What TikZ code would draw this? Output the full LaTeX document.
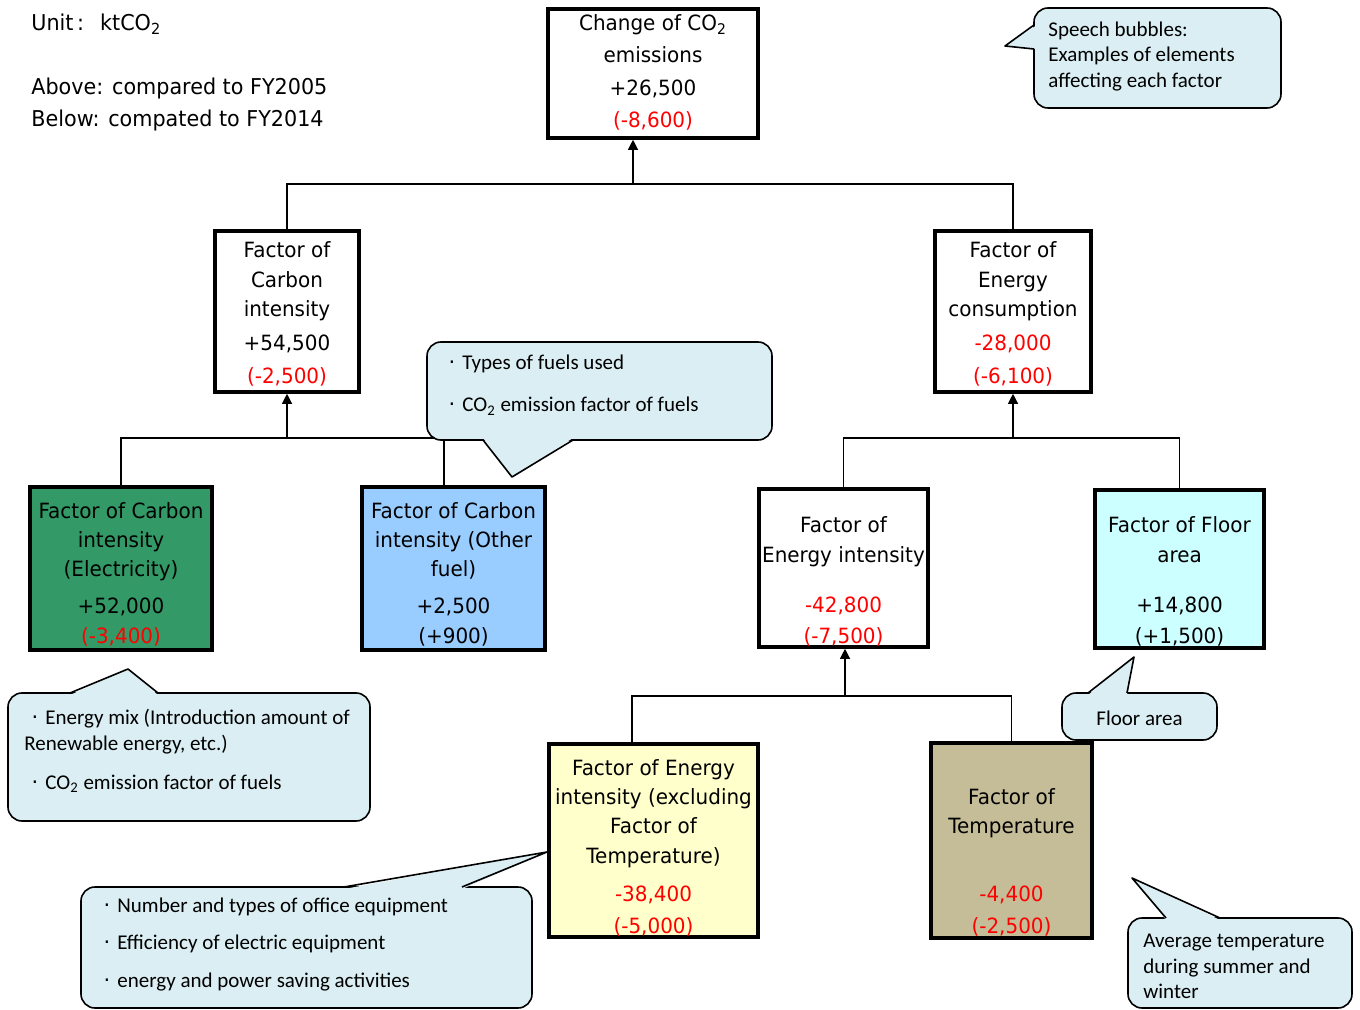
\documentclass[tikz,border=0pt]{standalone}
\usepackage{fontspec}
\newfontfamily\boxfont[FakeStretch=0.95]{DejaVu Sans}
\newfontfamily\bubfont{Carlito}
\newfontfamily\dotfont{DejaVu Sans}
\usetikzlibrary{arrows.meta}
\definecolor{cgreen}{RGB}{51,153,102}
\definecolor{cblue}{RGB}{153,204,255}
\definecolor{ccyan}{RGB}{204,255,255}
\definecolor{cyellow}{RGB}{255,255,204}
\definecolor{ctan}{RGB}{196,189,151}
\definecolor{bubfill}{RGB}{218,238,243}
\definecolor{cred}{RGB}{255,0,0}
\newcommand{\jdot}{\makebox[1em][c]{{\dotfont ·}}}
\begin{document}
\begin{tikzpicture}[x=0.5pt,y=-0.5pt,
  factorbox/.style={draw=black, line width=1.8pt, inner sep=0pt},
  conn/.style={line width=0.6pt},
  arr/.style={conn, -{Triangle[length=5pt,width=5pt]}},
  bt/.style={font=\boxfont\fontsize{10.5pt}{12pt}\selectfont, anchor=base, inner sep=0pt},
  rt/.style={bt, text=cred},
  lt/.style={font=\boxfont\fontsize{10.9pt}{12pt}\selectfont, anchor=base west, inner sep=0pt},
  bubt/.style={font=\bubfont\fontsize{10.5pt}{12pt}\selectfont, anchor=base west, inner sep=0pt},
  bubc/.style={font=\bubfont\fontsize{10.5pt}{12pt}\selectfont, anchor=base, inner sep=0pt},
  bubble/.style={draw=black, line width=0.8pt, fill=bubfill, rounded corners=7pt},
  ptrfill/.style={fill=bubfill},
  ptrline/.style={draw=black, line width=0.8pt, line join=round}]
\useasboundingbox (0,0) rectangle (1360,1010);

% ---------- factor boxes ----------
\node[factorbox, fill=white, minimum width=105pt, minimum height=64.5pt] (top) at (653,73.5) {};
\node[factorbox, fill=white, minimum width=72pt, minimum height=80.5pt] (ci) at (287,311.5) {};
\node[factorbox, fill=white, minimum width=78pt, minimum height=80.5pt] (ec) at (1013,311.5) {};
\node[factorbox, fill=cgreen, minimum width=91pt, minimum height=81.5pt] (el) at (121,568.5) {};
\node[factorbox, fill=cblue, minimum width=91.5pt, minimum height=81.5pt] (of) at (453.5,568.5) {};
\node[factorbox, fill=white, minimum width=84.5pt, minimum height=79pt] (ei) at (843.5,568) {};
\node[factorbox, fill=ccyan, minimum width=84.5pt, minimum height=79pt] (fa) at (1179.5,569) {};
\node[factorbox, fill=cyellow, minimum width=104.5pt, minimum height=96.5pt] (ex) at (653.5,840.5) {};
\node[factorbox, fill=ctan, minimum width=80.5pt, minimum height=97.5pt] (te) at (1011.5,840.5) {};

% ---------- connectors ----------
\coordinate (j1) at (633,184);
\draw[conn] (ci.north) |- (j1) -| (ec.north);
\draw[arr] (j1) -- (j1 |- top.south);

\coordinate (j2) at (287,438);
\coordinate (k2) at (444,438);
\draw[conn] (el.north) |- (k2) -- (k2 |- of.north);
\draw[arr] (j2) -- (ci.south);

\coordinate (j3) at (1013,438);
\draw[conn] (ei.north) |- (j3) -| (fa.north);
\draw[arr] (j3) -- (ec.south);

\coordinate (j4) at (845,696);
\coordinate (k4) at (632,696);
\draw[conn] (ex.north -| k4) -- (k4) -| (te.north);
\draw[arr] (j4) -- (j4 |- ei.south);

% ---------- box texts ----------
\node[bt] (top1) at (653,31) {Change of CO\textsubscript{2}};
\node[bt] (top2) at (653,63) {emissions};
\node[bt] (top3) at (653,96) {+26,500};
\node[rt] (top4) at (653,128) {(-8,600)};

\node[bt] (ci1) at (287,258) {Factor of};
\node[bt] (ci2) at (287,288) {Carbon};
\node[bt] (ci3) at (287,317) {intensity};
\node[bt] (ci4) at (287,351) {+54,500};
\node[rt] (ci5) at (287,384) {(-2,500)};

\node[bt] (ec1) at (1013,258) {Factor of};
\node[bt] (ec2) at (1013,288) {Energy};
\node[bt] (ec3) at (1013,317) {consumption};
\node[rt] (ec4) at (1013,351) {-28,000};
\node[rt] (ec5) at (1013,384) {(-6,100)};

\node[bt] (el1) at (121,518) {Factor of Carbon};
\node[bt] (el2) at (121,547) {intensity};
\node[bt] (el3) at (121,576) {(Electricity)};
\node[bt] (el4) at (121,613) {+52,000};
\node[rt] (el5) at (121,643) {(-3,400)};

\node[bt] (of1) at (453.5,518) {Factor of Carbon};
\node[bt] (of2) at (453.5,547) {intensity (Other};
\node[bt] (of3) at (453.5,576) {fuel)};
\node[bt] (of4) at (453.5,613) {+2,500};
\node[bt] (of5) at (453.5,643) {(+900)};

\node[bt] (ei1) at (843.5,532) {Factor of};
\node[bt] (ei2) at (843.5,562) {Energy intensity};
\node[rt] (ei3) at (843.5,612) {-42,800};
\node[rt] (ei4) at (843.5,643) {(-7,500)};

\node[bt] (fa1) at (1179.5,532) {Factor of Floor};
\node[bt] (fa2) at (1179.5,562) {area};
\node[bt] (fa3) at (1179.5,612) {+14,800};
\node[bt] (fa4) at (1179.5,643) {(+1,500)};

\node[bt] (ex1) at (653.5,775) {Factor of Energy};
\node[bt] (ex2) at (653.5,804) {intensity (excluding};
\node[bt] (ex3) at (653.5,833) {Factor of};
\node[bt] (ex4) at (653.5,863) {Temperature)};
\node[rt] (ex5) at (653.5,901) {-38,400};
\node[rt] (ex6) at (653.5,933) {(-5,000)};

\node[bt] (te1) at (1011.5,804) {Factor of};
\node[bt] (te2) at (1011.5,833) {Temperature};
\node[rt] (te3) at (1011.5,901) {-4,400};
\node[rt] (te4) at (1011.5,933) {(-2,500)};

% ---------- header texts ----------
\node[lt] (unit) at (31,31) {Unit\,:\hspace{8pt}ktCO\textsubscript{2}};
\node[lt] (above) at (31,95) {Above: compared to FY2005};
\node[lt] (below) at (31,127) {Below: compated to FY2014};

% ---------- speech bubbles ----------
% top right
\draw[bubble] (1034,8) rectangle (1281,108);
\fill[ptrfill] (1037,25) -- (1005,46) -- (1037,49) -- cycle;
\draw[ptrline] (1034,25) -- (1005,46) -- (1034,49);
\node[bubt] (sb1) at (1048,37) {Speech bubbles:};
\node[bubt] (sb2) at (1048,62) {Examples of elements};
\node[bubt] (sb3) at (1048,88) {affecting each factor};

% fuels
\draw[bubble] (427,342) rectangle (772,440);
\fill[ptrfill] (483,438) -- (512,477) -- (573,438) -- cycle;
\draw[ptrline] (483,440) -- (512,477) -- (573,440);
\node[bubt] (fb1) at (441,370) {\jdot Types of fuels used};
\node[bubt] (fb2) at (441,412) {\jdot CO\textsubscript{2} emission factor of fuels};

% electricity
\draw[bubble] (8,693) rectangle (370,821);
\fill[ptrfill] (70,695) -- (128,669) -- (158,695) -- cycle;
\draw[ptrline] (70,693) -- (128,669) -- (158,693);
\node[bubt] (eb1) at (24,724) {\jdot Energy mix (Introduction amount of};
\node[bubt] (eb2) at (24,750) {Renewable energy, etc.)};
\node[bubt] (eb3) at (24,789) {\jdot CO\textsubscript{2} emission factor of fuels};

% office equipment
\draw[bubble] (81,887) rectangle (532,1008);
\fill[ptrfill] (344,889) -- (547,852) -- (462,889) -- cycle;
\draw[ptrline] (344,887) -- (547,852) -- (462,887);
\node[bubt] (ob1) at (96,912) {\jdot Number and types of office equipment};
\node[bubt] (ob2) at (96,949) {\jdot Efficiency of electric equipment};
\node[bubt] (ob3) at (96,987) {\jdot energy and power saving activities};

% floor area
\draw[bubble] (1062,693) rectangle (1217,740);
\fill[ptrfill] (1088,695) -- (1134,657) -- (1127,695) -- cycle;
\draw[ptrline] (1088,693) -- (1134,657) -- (1127,693);
\node[bubc] (flb) at (1139.5,725) {Floor area};

% temperature
\draw[bubble] (1128,918) rectangle (1352,1008);
\fill[ptrfill] (1166,920) -- (1132,878) -- (1220,920) -- cycle;
\draw[ptrline] (1166,918) -- (1132,878) -- (1220,918);
\node[bubt] (tb1) at (1143,947) {Average temperature};
\node[bubt] (tb2) at (1143,973) {during summer and};
\node[bubt] (tb3) at (1143,998) {winter};
\end{tikzpicture}
\end{document}
